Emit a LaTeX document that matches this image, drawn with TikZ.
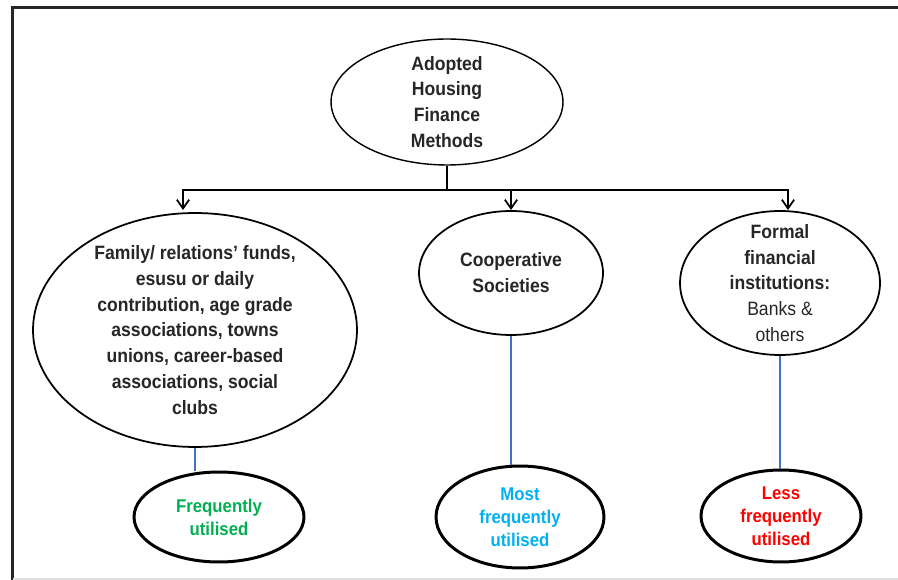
\documentclass[tikz,border=0pt]{standalone}
\usepackage{fontspec}
\setmainfont[FakeStretch=0.91]{Liberation Sans}
\usetikzlibrary{arrows.meta,shapes.geometric}
\usepackage{xcolor}

\begin{document}
\begin{tikzpicture}[
    x=0.02cm, y=-0.02cm,
    >={Straight Barb[length=5pt,width=7pt]},
    method/.style={
        ellipse,
        draw,
        line width=1pt,
        inner sep=0pt
    },
    usage/.style={
        ellipse,
        draw,
        line width=1.7pt,
        inner sep=0pt
    },
    mtext/.style={
        font=\fontsize{11}{14.7}\selectfont\bfseries,
        text=black!85,
        align=center,
        inner sep=0pt
    },
    utext/.style={
        font=\fontsize{10.5}{13.2}\selectfont\bfseries,
        align=center,
        inner sep=0pt
    },
    tie/.style={
        draw=linkcol,
        line width=0.6pt
    }
]

\definecolor{freqcol}{RGB}{0,176,80}
\definecolor{mostcol}{RGB}{0,176,240}
\definecolor{lesscol}{RGB}{255,0,0}
\definecolor{linkcol}{RGB}{68,114,196}

\useasboundingbox (0,0) rectangle (898,580);

% frame
\draw[line width=2pt, black!85] (12.5,580) -- (12.5,7.5) -- (898,7.5);
\draw[black!12, line width=0.6pt] (12.5,579) -- (898,579);

% methods
\node[method, line width=0.8pt, minimum width=4.64cm, minimum height=2.52cm,
    label={[mtext]center:{Adopted\\Housing\\Finance\\Methods}}]
    (top) at (447,102) {};

\node[method, minimum width=6.48cm, minimum height=4.68cm,
    label={[mtext]center:{Family/ relations’ funds,\\esusu or daily\\contribution, age grade\\associations, towns\\unions, career-based\\associations, social\\clubs}}]
    (fam) at (195,330) {};

\node[method, minimum width=3.68cm, minimum height=2.48cm,
    label={[mtext]center:{Cooperative\\Societies}}]
    (coop) at (511,273) {};

\node[method, minimum width=4.0cm, minimum height=2.88cm,
    label={[mtext]center:{Formal\\financial\\institutions:\\\mdseries Banks \&\\\mdseries others}}]
    (formal) at (780,283) {};

% usage
\node[usage, minimum width=3.4cm, minimum height=1.8cm,
    label={[utext, text=freqcol]center:{Frequently\\utilised}}]
    (freq) at (219,517) {};

\node[usage, minimum width=3.36cm, minimum height=2.04cm,
    label={[utext, text=mostcol]center:{Most\\frequently\\utilised}}]
    (most) at (520,517) {};

\node[usage, minimum width=3.2cm, minimum height=1.84cm,
    label={[utext, text=lesscol]center:{Less\\frequently\\utilised}}]
    (less) at (781,516) {};

% branches
\coordinate (split) at (447,190);
\coordinate (famin) at (183,210);
\coordinate (coopin) at (511,210);
\coordinate (formin) at (788,210);

\draw[line width=1pt] (top.south) -- (split);
\draw[->, line width=1pt] (split) -| (famin);
\draw[->, line width=1pt] (split) -| (coopin);
\draw[->, line width=1pt] (split) -| (formin);

\draw[tie] (fam.south) -- (fam.south |- freq.north);
\draw[tie] (coop.south) -- (coop.south |- most.north);
\draw[tie] (formal.south) -- (formal.south |- less.north);

\end{tikzpicture}
\end{document}
